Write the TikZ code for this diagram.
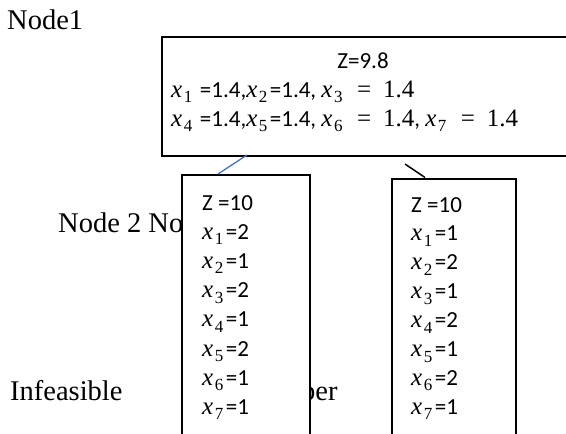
\RequirePackage{fix-cm}
\documentclass[tikz,border=0pt]{standalone}
\usepackage{fontspec}
\newfontfamily\calibri{Carlito}
\newfontfamily\tnr{Liberation Serif}
\newfontfamily\mserif{Liberation Serif}
\newcommand\mx[1]{\mbox{\mserif\fontsize{25}{25}\selectfont\itshape x\kern1.5pt\raisebox{-5.5pt}{\fontsize{17}{17}\selectfont\upshape #1}\kern2.5pt}}
\newcommand\meq[1]{\mbox{\mserif\fontsize{25}{25}\selectfont\kern12pt=\kern12pt #1}}
\definecolor{linkblue}{RGB}{68,114,196}
\tikzset{
  lbl/.style={font=\tnr\fontsize{28.5}{34}\selectfont, inner sep=0pt, anchor=base west},
  boxtxt/.style={font=\calibri\fontsize{23}{29}\selectfont, inner sep=0pt, anchor=base west},
  frame/.style={draw=black, line width=1.6pt, fill=white, inner sep=0pt, anchor=north west},
}
\begin{document}
\begin{tikzpicture}[x=1pt,y=-1pt]
\useasboundingbox (0,0) rectangle (566,434);
\clip (0,0) rectangle (566,434);
% labels behind the boxes
\node[lbl] (t1) at (7,29) {Node1};
\node[lbl] (t2) at (58,232) {Node 2 No};
\node[lbl] (t3) at (10,400) {Infeasible};
\node[lbl] (t4) at (301,400) {ber};
% boxes
\node[frame, minimum width=439pt, minimum height=119pt] (n1) at (161,36) {};
\node[frame, minimum width=128pt, minimum height=300pt] (n2) at (181,174) {};
\node[frame, minimum width=124pt, minimum height=300pt] (n3) at (391,178) {};
% top box text
\node[boxtxt, anchor=base] (z1) at (363,68) {Z=9.8};
\node[boxtxt] (l1) at (171,97) {\mx{1} =1.4,\mx{2}=1.4, \mx{3}\meq{1.4}};
\node[boxtxt] (l2) at (171,126) {\mx{4} =1.4,\mx{5}=1.4, \mx{6}\meq{1.4}, \mx{7}\meq{1.4}};
% left box text
\node[boxtxt] (z2) at (202,210) {Z =10};
\foreach \v [count=\i from 1] in {2,1,2,1,2,1,1}
  \node[boxtxt] (b\i) at (202,{210+29.2*\i}) {\mx{\i}=\v};
% right box text
\node[boxtxt] (z3) at (411,212) {Z =10};
\foreach \v [count=\i from 1] in {1,2,1,2,1,2,1}
  \node[boxtxt] (c\i) at (411,{212+28.9*\i}) {\mx{\i}=\v};
% connectors
\coordinate (p1) at (247,155);
\coordinate (p2) at (218,174);
\coordinate (q1) at (405,164);
\coordinate (q2) at (425,177.5);
\draw[linkblue, line width=1.3pt] (p1) -- (p2);
\draw[black, line width=1.5pt] (q1) -- (q2);
\end{tikzpicture}
\end{document}
